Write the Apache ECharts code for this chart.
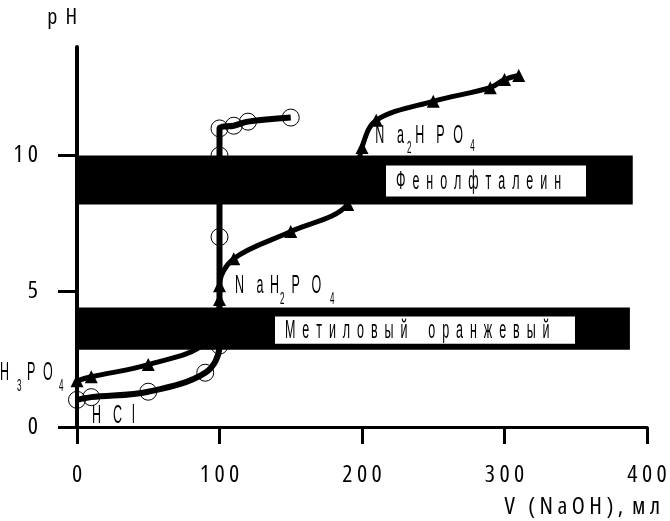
<!DOCTYPE html>
<html><head><meta charset="utf-8">
<script src="https://cdn.jsdelivr.net/npm/echarts@6/dist/echarts.min.js"></script>
<style>html,body{margin:0;padding:0;background:#fff}#c{width:670px;height:521px}</style>
</head><body><div id="c"></div>
<script>
// ---- data ----
const hclX = [0, 10, 50, 90, 100, 100, 100, 100, 110, 120, 150];
const hclY = [1.0, 1.1, 1.3, 2.0, 3.0, 7.0, 10.0, 11.0, 11.1, 11.25, 11.4];
const h3po4X = [0, 10, 50, 90, 100, 100, 110, 150, 190, 200, 210, 250, 290, 300, 310];
const h3po4Y = [1.7, 1.85, 2.3, 3.1, 4.7, 5.2, 6.2, 7.2, 8.2, 10.3, 11.3, 12.0, 12.5, 12.8, 12.95];
const xTicks = [0, 100, 200, 300, 400];
const yTicks = [0, 5, 10];
const indicatorNames = ['Фенолфталеин', 'Метиловый оранжевый'];
const indicatorLow = [8.2, 2.85];
const indicatorHigh = [10, 4.4];
const indicatorXEnd = [390, 388];
const speciesNames = ['H3PO4', 'HCl', 'NaH2PO4', 'Na2HPO4'];
// anchor data point of each species label: [series, index]
const speciesAnchor = [['p', 0], ['h', 0], ['p', 5], ['p', 10]];

// ---- styles / layout ----
const AXFONT = '"Open Sans", sans-serif';
const NFONT = '"Liberation Sans", Arial, sans-serif';
const NSIZE = 25, SSIZE = 16, NSCALE = 0.5;
const spaced = s => s.split('').join(' ');
const boxOffsets = [
  {left: 309, right: 509, top: 10, bottom: 8},
  {left: 198, right: 498, top: 9, bottom: 6}
];
// per label: base offset from anchor pixel, then fragments [text, dx, dy, isSub]
const speciesLayout = [
  {base: [-77, -7.6], frags: [['H', 0, 0], ['3', 17, 13, 1], ['P', 27, 0], ['O', 43, 0], ['4', 59, 13, 1]]},
  {base: [15, 16.3], frags: [['H', 0, 0], ['C', 21, 0], ['l', 40, 0]]},
  {base: [15.5, 0.6], frags: [['N', 0, 0], ['a', 21.5, 0], ['H', 35, 0], ['2', 45, 13, 1], ['P', 56.5, 0], ['O', 76.5, 0], ['4', 95, 13, 1]]},
  {base: [-1, 16], frags: [['N', 0, 0], ['a', 21.7, 0], ['2', 31.7, 12, 1], ['H', 40, 0], ['P', 61, 0], ['O', 78, 0], ['4', 95, 10, 1]]}
];
const wideText = s => s.split(' ').map(w => w.split('').join('  ')).join('      ');

const hclData = hclX.map((x, i) => [x, hclY[i]]);
const h3po4Data = h3po4X.map((x, i) => [x, h3po4Y[i]]);
const bandData = indicatorNames.map((n, i) => [0, indicatorXEnd[i], indicatorLow[i], indicatorHigh[i], i]);
const labelData = speciesAnchor.map((a, i) => {
  const src = a[0] === 'p' ? h3po4Data : hclData;
  return [src[a[1]][0], src[a[1]][1], i];
});

function narrowText(str, x, y, size, align) {
  return {
    type: 'text', x: x, y: y, scaleX: NSCALE, scaleY: 1,
    style: {x: 0, y: 0, text: str, fill: '#000', font: size + 'px ' + NFONT,
      align: align || 'left', verticalAlign: 'middle'}
  };
}

const axisText = {color: '#000', fontFamily: AXFONT, fontWeight: 'condensed', fontSize: 24};

const chart = echarts.init(document.getElementById('c'), null, {renderer: 'canvas'});
chart.setOption({
  animation: false,
  backgroundColor: '#fff',
  grid: {left: 77, right: 23, top: 47, bottom: 94, containLabel: false, outerBoundsMode: 'none'},
  xAxis: {
    type: 'value', min: 0, max: 400, interval: 100,
    name: 'V   ( N a O H ) ,  м л', nameLocation: 'end', nameGap: 13, nameMoveOverlap: false,
    nameTextStyle: Object.assign({}, axisText, {align: 'right', verticalAlign: 'top', lineHeight: 24, padding: [68, 0, 0, 0]}),
    axisLine: {show: true, lineStyle: {color: '#000', width: 3}},
    axisTick: {show: true, length: 17, customValues: xTicks, lineStyle: {color: '#000', width: 3}},
    axisLabel: Object.assign({}, axisText, {margin: 36, lineHeight: 24, customValues: xTicks, formatter: v => spaced(String(v))}),
    splitLine: {show: false}
  },
  yAxis: {
    type: 'value', min: 0, max: 14,
    name: 'p  H', nameLocation: 'end', nameGap: 29, nameMoveOverlap: false,
    nameTextStyle: Object.assign({}, axisText, {fontSize: 22, align: 'right', verticalAlign: 'middle'}),
    axisLine: {show: true, lineStyle: {color: '#000', width: 4}},
    axisTick: {show: true, length: 19, customValues: yTicks, lineStyle: {color: '#000', width: 3}},
    axisLabel: Object.assign({}, axisText, {margin: 39, customValues: yTicks, formatter: v => spaced(String(v))}),
    splitLine: {show: false}
  },
  series: [
    {
      type: 'line', name: 'HCl', data: hclData, smooth: 0.35, z: 2,
      symbol: 'circle', symbolSize: 17,
      itemStyle: {color: 'rgba(0,0,0,0)', borderColor: '#000', borderWidth: 1},
      lineStyle: {color: '#000', width: 6},
      silent: true
    },
    {
      type: 'line', name: 'H3PO4', data: h3po4Data, smooth: 0.35, z: 2,
      symbol: 'triangle', symbolSize: 13,
      itemStyle: {color: '#000'},
      lineStyle: {color: '#000', width: 5},
      silent: true
    },
    {
      type: 'custom', coordinateSystem: 'cartesian2d', z: 5, silent: true,
      data: bandData, encode: {x: [0, 1], y: [2, 3]},
      renderItem: function (params, api) {
        const i = api.value(4);
        const p0 = api.coord([api.value(0), api.value(3)]);
        const p1 = api.coord([api.value(1), api.value(2)]);
        const o = boxOffsets[i];
        const bx = p0[0] + o.left, bw = o.right - o.left;
        const by = p0[1] + o.top, bh = (p1[1] - o.bottom) - by;
        return {
          type: 'group',
          children: [
            {type: 'rect', shape: {x: p0[0], y: p0[1], width: p1[0] - p0[0], height: p1[1] - p0[1]}, style: {fill: '#000'}},
            {type: 'rect', shape: {x: bx, y: by, width: bw, height: bh}, style: {fill: '#fff'}},
            narrowText(wideText(indicatorNames[i]), bx + 10, by + bh / 2 + 1, NSIZE)
          ]
        };
      }
    },
    {
      type: 'custom', coordinateSystem: 'cartesian2d', z: 6, silent: true, clip: false,
      data: labelData, encode: {x: 0, y: 1},
      renderItem: function (params, api) {
        const i = api.value(2);
        const p = api.coord([api.value(0), api.value(1)]);
        const L = speciesLayout[i];
        return {
          type: 'group',
          children: L.frags.map(f => narrowText(f[0], p[0] + L.base[0] + f[1], p[1] + L.base[1] + f[2], f[3] ? SSIZE : NSIZE))
        };
      }
    }
  ]
});
</script></body></html>
